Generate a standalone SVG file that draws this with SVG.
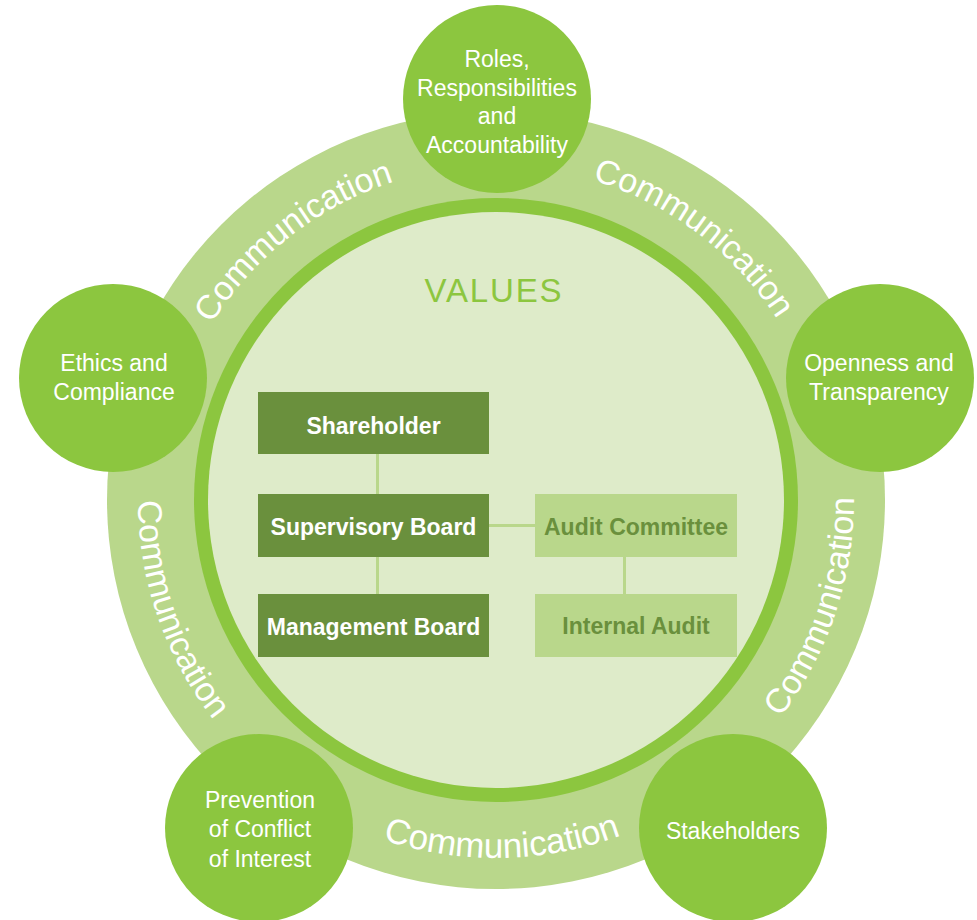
<svg xmlns="http://www.w3.org/2000/svg" xmlns:xlink="http://www.w3.org/1999/xlink" width="977" height="920" viewBox="0 0 977 920">
  <style>
    .ring { fill: #b9d78b; }
    .band { fill: #8cc63f; }
    .core { fill: #deebc9; }
    .bubble { fill: #8cc63f; }
    .btext { font-family: "Liberation Sans", Arial, sans-serif; font-size: 23px; fill: #ffffff; text-anchor: middle; }
    .comm { font-family: "Liberation Sans", Arial, sans-serif; font-size: 34px; fill: #ffffff; text-anchor: middle; }
    .dark { fill: #6a903d; }
    .light { fill: #b9d78b; }
    .boxt { font-family: "Liberation Sans", Arial, sans-serif; font-size: 23px; font-weight: bold; text-anchor: middle; }
    .wt { fill: #ffffff; }
    .gt { fill: #6a903d; }
    .conn { stroke: #b9d78b; stroke-width: 3; fill: none; }
    .values { font-family: "Liberation Sans", Arial, sans-serif; font-size: 33px; fill: #8cc63f; text-anchor: middle; }
  </style>
  <defs>
    <path id="cwArc" d="M206.9,332.5 A334,334 0 0 1 785.1,332.5"/>
    <path id="ccwArc" d="M186,679 A358,358 0 0 0 806,679"/>
  </defs>

  <g id="rings">
    <circle class="ring" cx="496" cy="500" r="389"/>
    <circle class="band" cx="496" cy="500" r="302"/>
    <circle class="core" cx="496" cy="500" r="288"/>
  </g>

  <g id="communication-labels">
    <g transform="rotate(-38 496 500)"><text class="comm"><textPath xlink:href="#cwArc" href="#cwArc" startOffset="50%">Communication</textPath></text></g>
    <g transform="rotate(37 496 500)"><text class="comm"><textPath xlink:href="#cwArc" href="#cwArc" startOffset="50%">Communication</textPath></text></g>
    <g transform="rotate(-71.5 496 500)"><text class="comm"><textPath xlink:href="#ccwArc" href="#ccwArc" startOffset="50%">Communication</textPath></text></g>
    <g transform="rotate(-1 496 500)"><text class="comm" style="font-size:35px"><textPath xlink:href="#ccwArc" href="#ccwArc" startOffset="50%">Communication</textPath></text></g>
    <g transform="rotate(71 496 500)"><text class="comm"><textPath xlink:href="#ccwArc" href="#ccwArc" startOffset="50%">Communication</textPath></text></g>
  </g>

  <text id="values" class="values" x="493" y="302" textLength="137" lengthAdjust="spacing">VALUES</text>

  <g id="node-roles">
    <circle class="bubble" cx="497" cy="99" r="94"/>
    <text class="btext" x="497" y="67">Roles,</text>
    <text class="btext" x="497" y="95.5">Responsibilities</text>
    <text class="btext" x="497" y="124">and</text>
    <text class="btext" x="497" y="152.5">Accountability</text>
  </g>
  <g id="node-ethics">
    <circle class="bubble" cx="113" cy="378" r="94"/>
    <text class="btext" x="114" y="371">Ethics and</text>
    <text class="btext" x="114" y="400">Compliance</text>
  </g>
  <g id="node-openness">
    <circle class="bubble" cx="880" cy="378" r="94"/>
    <text class="btext" x="879" y="371">Openness and</text>
    <text class="btext" x="879" y="399.5">Transparency</text>
  </g>
  <g id="node-prevention">
    <circle class="bubble" cx="259" cy="828" r="94"/>
    <text class="btext" x="260" y="808">Prevention</text>
    <text class="btext" x="260" y="837">of Conflict</text>
    <text class="btext" x="260" y="866.5">of Interest</text>
  </g>
  <g id="node-stakeholders">
    <circle class="bubble" cx="733" cy="828" r="94"/>
    <text class="btext" x="733" y="839">Stakeholders</text>
  </g>

  <g id="connectors">
    <line class="conn" x1="377.5" y1="454" x2="377.5" y2="494"/>
    <line class="conn" x1="377.5" y1="557" x2="377.5" y2="594"/>
    <line class="conn" x1="489" y1="525.5" x2="535" y2="525.5"/>
    <line class="conn" x1="624.5" y1="557" x2="624.5" y2="594"/>
  </g>

  <g id="node-shareholder">
    <rect class="dark" x="258" y="392" width="231" height="62"/>
    <text class="boxt wt" x="373.5" y="434">Shareholder</text>
  </g>
  <g id="node-supervisory-board">
    <rect class="dark" x="258" y="494" width="231" height="63"/>
    <text class="boxt wt" x="373.5" y="535">Supervisory Board</text>
  </g>
  <g id="node-management-board">
    <rect class="dark" x="258" y="594" width="231" height="63"/>
    <text class="boxt wt" x="373.5" y="635">Management Board</text>
  </g>
  <g id="node-audit-committee">
    <rect class="light" x="535" y="494" width="202" height="63"/>
    <text class="boxt gt" x="636" y="535">Audit Committee</text>
  </g>
  <g id="node-internal-audit">
    <rect class="light" x="535" y="594" width="202" height="63"/>
    <text class="boxt gt" x="636" y="634">Internal Audit</text>
  </g>
</svg>
